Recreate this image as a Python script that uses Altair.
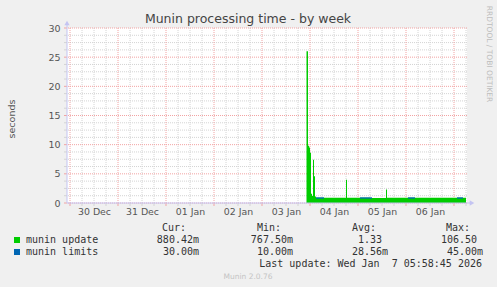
import altair as alt
import pandas as pd

# ---------------- data ----------------
title_text = "Munin processing time - by week"
y_title = "seconds"
watermark = "RRDTOOL / TOBI OETIKER"
footer = "Munin 2.0.76"
last_update = "Last update: Wed Jan\u00a0\u00a07 05:58:45 2026"

x_domain = ["2025-12-29T22:30", "2026-01-07T06:30"]
day_labels = ["2025-12-30T12:00", "2025-12-31T12:00", "2026-01-01T12:00", "2026-01-02T12:00",
              "2026-01-03T12:00", "2026-01-04T12:00", "2026-01-05T12:00", "2026-01-06T12:00"]
y_ticks = [0, 5, 10, 15, 20, 25, 30]

update_times = [
    "2026-01-03T22:15", "2026-01-03T23:00", "2026-01-03T23:30", "2026-01-04T00:00",
    "2026-01-04T00:30", "2026-01-04T01:00", "2026-01-04T01:30", "2026-01-04T02:00",
    "2026-01-04T02:30", "2026-01-04T03:00", "2026-01-04T08:00", "2026-01-04T13:00",
    "2026-01-04T18:00", "2026-01-04T18:30", "2026-01-05T00:00", "2026-01-05T06:00",
    "2026-01-05T14:00", "2026-01-05T14:30", "2026-01-05T20:00", "2026-01-06T02:00",
    "2026-01-06T10:00", "2026-01-06T18:00", "2026-01-07T00:00", "2026-01-07T05:30",
    "2026-01-07T06:00",
]
update_values = [
    26.0, 9.8, 9.5, 8.6,
    1.6, 1.2, 7.4, 4.6,
    1.1, 0.90, 0.88, 0.91,
    4.0, 0.89, 0.90, 0.87,
    2.3, 0.90, 0.88, 0.91,
    0.89, 0.90, 0.88, 0.88,
    0.88,
]

limit_starts = ["2026-01-04T03:00", "2026-01-05T01:00", "2026-01-06T01:00", "2026-01-07T01:30"]
limit_ends = ["2026-01-04T07:00", "2026-01-05T07:00", "2026-01-06T04:30", "2026-01-07T04:30"]
limit_levels = [0.86, 0.86, 0.86, 0.86]

series_names = ["munin update", "munin limits"]
series_colors = ["#00CC00", "#0066B3"]
cur_vals = ["880.42m", "30.00m"]
min_vals = ["767.50m", "10.00m"]
avg_vals = ["1.33", "28.56m"]
max_vals = ["106.50", "45.00m"]
headers = ["Cur:", "Min:", "Avg:", "Max:"]

# ---------------- helpers ----------------
L, T, W, H = 67, 28, 400, 175


def ms(s):
    return int(pd.Timestamp(s, tz="UTC").value // 10**6)


xs = alt.Scale(type="utc", domain=[ms(x_domain[0]), ms(x_domain[1])])
ys = alt.Scale(domain=[0, 30], nice=False, zero=True)
x_axis = alt.Axis(values=[ms(d) for d in day_labels], labelExpr="utcFormat(datum.value, '%d %b')",
                  grid=False, ticks=False, domain=False, title=None, labelFont="DejaVu Sans",
                  labelFontSize=9.4, labelColor="#555555", labelPadding=4, labelOverlap=False)
y_axis = alt.Axis(values=y_ticks, grid=False, ticks=False, domain=False, title=None,
                  labelFont="DejaVu Sans", labelFontSize=9.5, labelColor="#555555", labelPadding=7)
x_enc = alt.X("t:Q", scale=xs, axis=x_axis, type="temporal")
y_enc = alt.Y("v:Q", scale=ys, axis=y_axis)

one = pd.DataFrame({"a": [0]})


def txt(s, x, y, size=10, font="DejaVu Sans Mono", color="#333333", align="left",
        baseline="alphabetic", angle=None):
    kw = dict(align=align, baseline=baseline, font=font, fontSize=size, color=color)
    if angle is not None:
        kw["angle"] = angle
    return alt.Chart(pd.DataFrame({"s": [s]})).mark_text(**kw).encode(
        x=alt.value(x - L), y=alt.value(y - T), text="s:N")


# grid data
majors_x = pd.date_range("2025-12-30", "2026-01-07", freq="D", tz="UTC")
minors_x = [t for t in pd.date_range("2025-12-30", "2026-01-07 06:00", freq="6h", tz="UTC") if t.hour != 0]
gx_major = pd.DataFrame({"t": [int(t.value // 10**6) for t in majors_x]})
gx_minor = pd.DataFrame({"t": [int(t.value // 10**6) for t in minors_x]})
gy_major = pd.DataFrame({"v": y_ticks})
gy_minor = pd.DataFrame({"v": [k * 1.25 for k in range(25) if k % 4 != 0]})

MAJ = "#F2A3A3"
MIN = "#D4D4D4"
AX = "#C4C4F2"

layers = []
layers.append(alt.Chart(gx_minor).mark_rule(color=MIN, strokeDash=[1, 1]).encode(x=x_enc))
layers.append(alt.Chart(gy_minor).mark_rule(color=MIN, strokeDash=[1, 1]).encode(y=y_enc))
layers.append(alt.Chart(gx_major).mark_rule(color=MAJ, strokeDash=[1, 1]).encode(x=x_enc))
layers.append(alt.Chart(gy_major).mark_rule(color=MAJ, strokeDash=[1, 1]).encode(y=y_enc))
# tick marks outside the plot
layers.append(alt.Chart(gx_minor).mark_rule(color=MIN).encode(x=x_enc, y=alt.value(H), y2=alt.value(H + 3)))
layers.append(alt.Chart(gx_major).mark_rule(color=MAJ).encode(x=x_enc, y=alt.value(H), y2=alt.value(H + 3)))
layers.append(alt.Chart(gy_minor).mark_rule(color=MIN).encode(y=y_enc, x=alt.value(-3), x2=alt.value(0)))
layers.append(alt.Chart(gy_major).mark_rule(color=MAJ).encode(y=y_enc, x=alt.value(-3), x2=alt.value(0)))

# data
upd = pd.DataFrame({"t": [ms(s) for s in update_times], "v": update_values})
layers.append(alt.Chart(upd).mark_area(interpolate="step-after", color=series_colors[0], clip=True)
              .encode(x=x_enc, y=y_enc))
lim = pd.DataFrame({"t": [ms(s) for s in limit_starts], "t2": [ms(s) for s in limit_ends], "v": limit_levels})
layers.append(alt.Chart(lim).mark_rule(color=series_colors[1], strokeWidth=1.3)
              .encode(x=x_enc, x2="t2:T", y=y_enc))

# axis lines with arrows
layers.append(alt.Chart(one).mark_rule(color=AX).encode(x=alt.value(0), y=alt.value(H), y2=alt.value(-5)))
layers.append(alt.Chart(one).mark_point(shape="triangle-up", filled=True, color=AX, size=28, opacity=1)
              .encode(x=alt.value(0), y=alt.value(-5)))
layers.append(alt.Chart(one).mark_rule(color=AX).encode(x=alt.value(0), x2=alt.value(W + 3), y=alt.value(H)))
layers.append(alt.Chart(one).mark_point(shape="triangle-right", filled=True, color=AX, size=28, opacity=1)
              .encode(x=alt.value(W + 5), y=alt.value(H)))

# texts
layers.append(txt(title_text, 248, 23, size=12.5, font="DejaVu Sans", color="#444444", align="center"))
layers.append(txt(y_title, 11.5, 119, size=9.5, font="DejaVu Sans", color="#555555", align="center",
                  baseline="middle", angle=270))
layers.append(txt(watermark, 488.5, 54, size=7.5, font="DejaVu Sans", color="#BDBDBD", align="center",
                  baseline="middle", angle=90))
layers.append(txt(footer, 248, 279, size=7.5, font="DejaVu Sans", color="#C4C4C4", align="center"))

for h, xe in zip(headers, [186, 281, 376, 470]):
    layers.append(txt(h, xe, 231, align="right"))

col_ends = [199, 293, 388, 483]
for i, name in enumerate(series_names):
    yb = 243 + 12 * i
    layers.append(alt.Chart(one).mark_rect(color=series_colors[i]).encode(
        x=alt.value(14 - L), x2=alt.value(20 - L), y=alt.value(yb - 6 - T), y2=alt.value(yb - T)))
    layers.append(txt(name, 26, yb))
    for vals, ce in zip([cur_vals, min_vals, avg_vals, max_vals], col_ends):
        s = vals[i]
        off = 0 if s[-1].isalpha() else 6
        layers.append(txt(s, ce - off, yb, align="right"))

layers.append(txt(last_update, 482, 267, align="right"))

chart = alt.layer(*layers).properties(
    width=W, height=H,
    autosize=alt.AutoSizeParams(type="none"),
    padding={"left": L, "top": T, "right": 497 - L - W, "bottom": 287 - T - H},
).configure(background="#F0F0F0").configure_view(fill="white", stroke=None)

chart.save("out.html", embed_options={"renderer": "svg", "actions": False})
